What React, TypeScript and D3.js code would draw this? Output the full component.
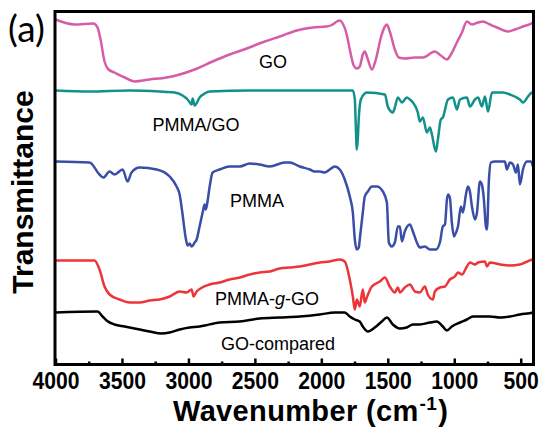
import React, { useRef, useEffect } from "react";
import { select, scaleLinear, axisBottom, line, curveMonotoneX } from "d3";

// wavenumber (cm-1), transmittance (a.u., stacked offsets as in the figure)
const goData: [number, number][] = [
  [4000, 345], [3857, 340], [3714, 341], [3684, 337], [3661, 325], [3631, 303], [3601, 295],
  [3556, 292], [3480, 287], [3405, 283], [3292, 285], [3164, 287], [3066, 290], [2953, 295],
  [2818, 303], [2690, 310], [2562, 316], [2426, 323], [2313, 328], [2185, 334], [2064, 337],
  [1959, 338], [1914, 340], [1884, 343], [1861, 344], [1839, 341], [1809, 330], [1786, 315],
  [1756, 299], [1733, 296], [1711, 298], [1688, 310], [1673, 313], [1650, 305], [1620, 295],
  [1590, 305], [1552, 327], [1522, 338], [1507, 340], [1485, 333], [1447, 315], [1417, 307],
  [1372, 306], [1296, 307], [1236, 307], [1146, 313], [1101, 309], [1055, 305], [1025, 310],
  [980, 322], [942, 332], [905, 343], [867, 340], [821, 342], [784, 343], [732, 340],
  [679, 337], [596, 333], [543, 335], [483, 338], [407, 342], [400, 343],
];

const pmmaGoData: [number, number][] = [
  [4000, 274], [3744, 273], [3443, 274], [3217, 273], [3104, 272], [3044, 269], [3006, 265],
  [2976, 260], [2968, 266], [2953, 259], [2916, 267], [2878, 271], [2840, 273], [2539, 274],
  [2162, 274], [1861, 274], [1763, 274], [1748, 265], [1741, 240], [1733, 215], [1726, 225],
  [1718, 247], [1703, 265], [1673, 271], [1658, 272], [1522, 270], [1500, 258], [1477, 253],
  [1462, 252], [1447, 257], [1424, 267], [1394, 262], [1357, 267], [1334, 265], [1311, 262],
  [1274, 252], [1259, 243], [1236, 247], [1206, 232], [1183, 237], [1168, 230], [1138, 213],
  [1123, 225], [1101, 245], [1086, 247], [1047, 265], [1010, 267], [980, 255], [957, 265],
  [905, 267], [882, 258], [844, 265], [821, 267], [792, 258], [769, 268], [746, 253],
  [716, 272], [634, 272], [581, 270], [506, 265], [483, 262], [445, 268], [415, 272], [400, 267],
];

const pmmaData: [number, number][] = [
  [4000, 203], [3744, 202], [3669, 190], [3639, 187], [3593, 193], [3556, 190], [3495, 195],
  [3458, 183], [3428, 192], [3367, 197], [3239, 195], [3141, 188], [3089, 178], [3066, 170],
  [3044, 150], [3021, 127], [3006, 119], [2991, 121], [2976, 118], [2953, 122], [2938, 125],
  [2916, 138], [2893, 152], [2878, 160], [2870, 155], [2863, 158], [2840, 178], [2818, 192],
  [2765, 195], [2690, 198], [2614, 198], [2539, 201], [2464, 200], [2388, 198], [2275, 202],
  [2238, 202], [2162, 198], [2087, 195], [2050, 193], [2012, 193], [1974, 192], [1937, 195],
  [1899, 198], [1861, 195], [1824, 185], [1786, 168], [1763, 152], [1748, 125], [1733, 115],
  [1718, 117], [1711, 125], [1688, 152], [1673, 168], [1650, 173], [1620, 178], [1582, 178],
  [1537, 173], [1507, 162], [1492, 122], [1470, 118], [1447, 122], [1424, 138], [1409, 138],
  [1394, 123], [1372, 133], [1334, 140], [1311, 133], [1281, 122], [1259, 117], [1221, 118],
  [1183, 115], [1138, 115], [1108, 122], [1086, 138], [1070, 140], [1055, 165], [1047, 170],
  [1033, 167], [1018, 142], [1002, 128], [987, 132], [972, 138], [950, 158], [935, 152],
  [912, 170], [897, 178], [882, 173], [867, 158], [844, 145], [829, 152], [807, 183],
  [792, 180], [777, 165], [762, 138], [754, 135], [739, 185], [724, 202], [694, 203],
  [619, 203], [604, 195], [581, 202], [558, 200], [536, 192], [521, 200], [506, 180],
  [483, 195], [453, 203], [422, 203], [407, 198], [400, 197],
];

const pmmaGGoData: [number, number][] = [
  [4000, 104], [3706, 104], [3669, 95], [3631, 78], [3593, 70], [3518, 65], [3443, 62],
  [3367, 62], [3292, 64], [3217, 65], [3141, 68], [3066, 73], [3013, 72], [2976, 75],
  [2961, 68], [2938, 73], [2840, 80], [2765, 82], [2690, 85], [2614, 87], [2539, 90],
  [2464, 92], [2388, 93], [2313, 96], [2238, 97], [2162, 98], [2087, 100], [2012, 102],
  [1937, 103], [1861, 105], [1824, 103], [1786, 85], [1763, 68], [1748, 55], [1733, 65],
  [1711, 58], [1688, 75], [1673, 62], [1658, 67], [1620, 78], [1560, 83], [1522, 87],
  [1485, 78], [1447, 72], [1424, 77], [1409, 72], [1372, 77], [1334, 80], [1296, 73],
  [1259, 72], [1221, 78], [1199, 70], [1161, 65], [1146, 73], [1108, 77], [1070, 78],
  [1033, 85], [995, 88], [972, 92], [942, 90], [905, 98], [882, 102], [844, 100],
  [821, 102], [769, 103], [754, 98], [732, 102], [656, 100], [581, 99], [506, 100],
  [468, 102], [407, 105], [400, 105],
];

const goComparedData: [number, number][] = [
  [4000, 52], [3684, 53], [3646, 48], [3616, 44], [3556, 40], [3480, 38], [3367, 35],
  [3292, 33], [3202, 31], [3141, 32], [3066, 35], [2991, 37], [2916, 38], [2878, 39],
  [2765, 42], [2614, 43], [2464, 46], [2313, 47], [2162, 48], [2012, 50], [1899, 52],
  [1824, 52], [1786, 48], [1748, 45], [1711, 43], [1688, 38], [1650, 33], [1598, 37],
  [1545, 43], [1507, 47], [1462, 40], [1409, 36], [1357, 37], [1311, 40], [1259, 40],
  [1183, 42], [1131, 43], [1086, 38], [1055, 34], [1018, 38], [957, 42], [905, 45],
  [860, 48], [807, 48], [732, 48], [656, 47], [581, 48], [506, 50], [407, 52], [400, 53],
];

const seriesNames = ["GO", "PMMA/GO", "PMMA", "PMMA-g-GO", "GO-compared"];
const seriesColors = ["#d65ca8", "#12918b", "#3a4ea8", "#ec3439", "#000000"];
const majorTicks = [4000, 3500, 3000, 2500, 2000, 1500, 1000, 500];
const minorTicks = [3750, 3250, 2750, 2250, 1750, 1250, 750];

const FONT = "Arial, 'Liberation Sans', Helvetica, sans-serif";

const App = () => {
  const svgRef = useRef<SVGSVGElement>(null);
  const width = 539;
  const height = 427;

  useEffect(() => {
    const svg = select(svgRef.current);
    svg.selectAll("*").remove();

    const left = 55.5;
    const right = 534;
    const top = 11.5;
    const bottom = 364.5;

    const xScale = scaleLinear().domain([4000, 400]).range([left, right]);
    const yScale = scaleLinear().domain([0, 353]).range([bottom, top]);

    const lineGen = line<[number, number]>()
      .x((d) => xScale(d[0]))
      .y((d) => yScale(d[1]))
      .curve(curveMonotoneX);

    const allData = [goData, pmmaGoData, pmmaData, pmmaGGoData, goComparedData];

    svg
      .selectAll(".line-path")
      .data(allData)
      .enter()
      .append("path")
      .attr("class", "line-path")
      .attr("fill", "none")
      .attr("stroke", (d, i) => seriesColors[i])
      .attr("stroke-width", 2.5)
      .attr("stroke-linejoin", "round")
      .attr("d", (d) => lineGen(d));

    // frame
    svg
      .append("rect")
      .attr("x", 55)
      .attr("y", top)
      .attr("width", 533.5 - 55)
      .attr("height", bottom - top)
      .attr("fill", "none")
      .attr("stroke", "#000")
      .attr("stroke-width", 3);

    // ticks, pointing inward
    const xAxisG = svg
      .append("g")
      .attr("transform", `translate(0,${bottom})`)
      .call(
        axisBottom(xScale)
          .tickValues(majorTicks)
          .tickSize(-6)
          .tickPadding(8)
          .tickFormat((d) => String(d))
      );
    xAxisG.select(".domain").remove();
    xAxisG.selectAll(".tick line").attr("stroke-width", 2.5);
    xAxisG
      .selectAll(".tick text")
      .attr("font-family", FONT)
      .attr("font-weight", "bold")
      .attr("font-size", 23)
      .attr("transform", "scale(0.92,1)")
      .attr("fill", "#000");

    const minorG = svg
      .append("g")
      .attr("transform", `translate(0,${bottom})`)
      .call(axisBottom(xScale).tickValues(minorTicks).tickSize(-3).tickFormat(() => ""));
    minorG.select(".domain").remove();
    minorG.selectAll(".tick line").attr("stroke-width", 2.5);

    // series labels
    const labelPos = [
      [273, 68],
      [196, 131],
      [257, 207],
      [267, 305],
      [278, 350],
    ];
    seriesNames.forEach((name, i) => {
      const t = svg
        .append("text")
        .attr("x", labelPos[i][0])
        .attr("y", labelPos[i][1])
        .attr("text-anchor", "middle")
        .attr("font-family", FONT)
        .attr("font-size", 18)
        .attr("fill", "#000");
      if (name === "PMMA-g-GO") {
        t.append("tspan").text("PMMA-");
        t.append("tspan").attr("font-style", "italic").text("g");
        t.append("tspan").text("-GO");
      } else {
        t.text(name);
      }
    });

    // axis titles
    const xLabel = svg
      .append("text")
      .attr("x", 173)
      .attr("y", 420.5)
      .attr("font-family", FONT)
      .attr("font-weight", "bold")
      .attr("font-size", 29)
      .attr("letter-spacing", 0.35)
      .attr("fill", "#000");
    xLabel.append("tspan").text("Wavenumber (cm");
    xLabel.append("tspan").attr("font-size", 19).attr("dx", 1).attr("dy", -11).text("-1");
    xLabel.append("tspan").attr("dx", 1).attr("dy", 11).text(")");

    svg
      .append("text")
      .attr("transform", `translate(33,192) rotate(-90)`)
      .attr("text-anchor", "middle")
      .attr("font-family", FONT)
      .attr("font-weight", "bold")
      .attr("font-size", 30)
      .attr("fill", "#000")
      .text("Transmittance");

    svg
      .append("text")
      .attr("x", 8)
      .attr("y", 42)
      .attr("font-family", "Lato, 'Open Sans', sans-serif")
      .attr("font-size", 37)
      .attr("fill", "#000")
      .text("(a)");
  }, []);

  return (
    <svg
      ref={svgRef}
      width={width}
      height={height}
      style={{ position: "absolute", left: 0, top: 0, background: "#fff" }}
    ></svg>
  );
};

export default App;
